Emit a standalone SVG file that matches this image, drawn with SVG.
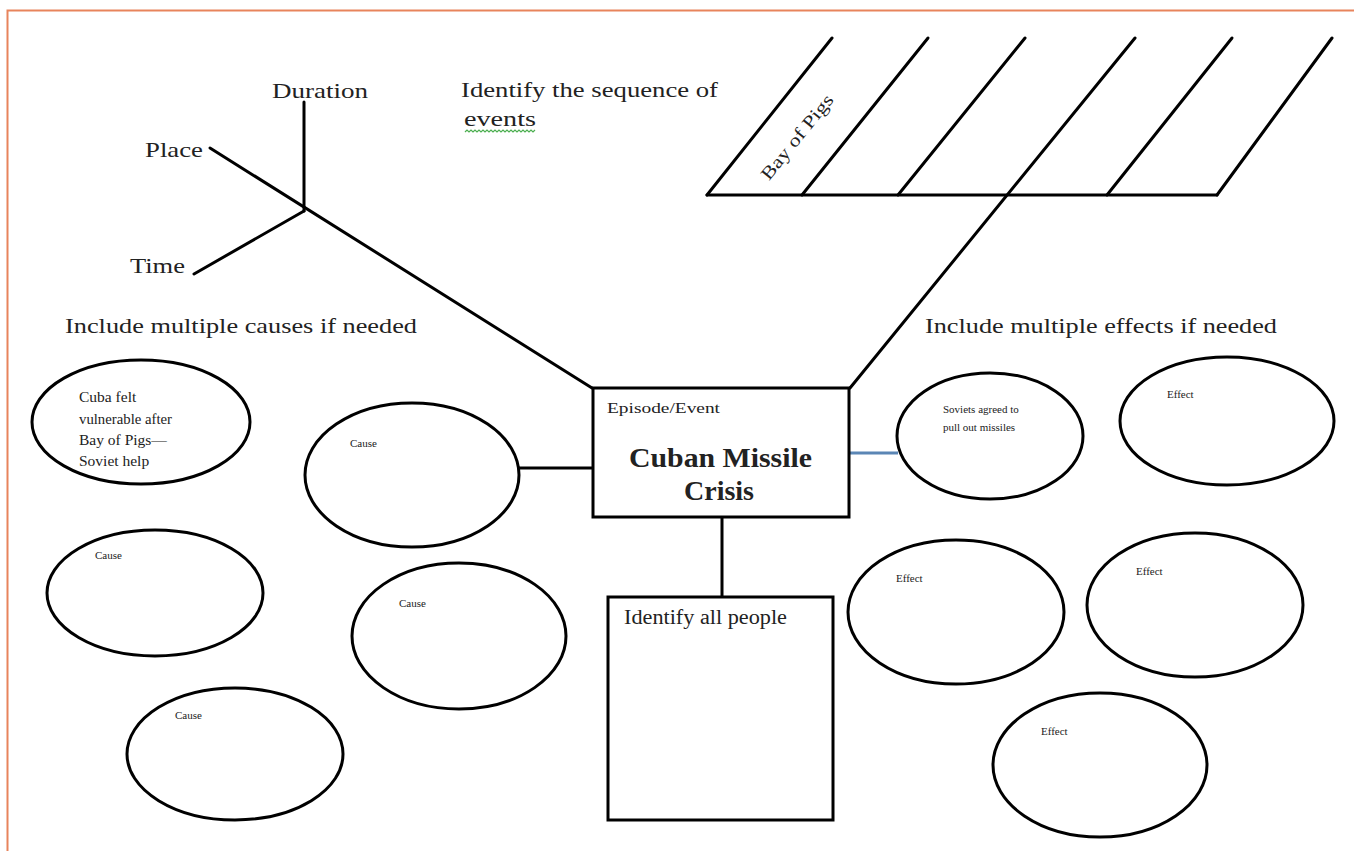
<svg xmlns="http://www.w3.org/2000/svg" width="1354" height="851" viewBox="0 0 1354 851">
<style>
  .ln { stroke:#000; stroke-width:3; fill:none; stroke-linecap:round; }
  .shape { stroke:#000; stroke-width:3; fill:#fff; }
  .t { font-family:"Liberation Serif","DejaVu Serif",serif; fill:#222; }
  .lg { font-size:21px; }
  .sm { font-size:11px; }
  .md { font-size:15.5px; }
</style>
<rect x="0" y="0" width="1354" height="851" fill="#fff"/>
<!-- orange frame -->
<path d="M7.5 851 V10.5 H1354" fill="none" stroke="#E8845C" stroke-width="2"/>

<g id="connectors">
  <!-- fishbone left -->
  <line class="ln" x1="304" y1="102" x2="304" y2="211"/>
  <line class="ln" x1="210" y1="148" x2="592" y2="388"/>
  <line class="ln" x1="194" y1="274" x2="304" y2="211"/>
  <!-- sequence parallelogram -->
  <line class="ln" x1="707" y1="195" x2="1217" y2="195"/>
  <line class="ln" x1="707" y1="195" x2="832" y2="38"/>
  <line class="ln" x1="802" y1="195" x2="928" y2="38"/>
  <line class="ln" x1="898" y1="195" x2="1025" y2="38"/>
  <line class="ln" x1="1107" y1="195" x2="1232" y2="38"/>
  <line class="ln" x1="1217" y1="195" x2="1332" y2="38"/>
  <line class="ln" x1="850" y1="388" x2="1135" y2="38"/>
  <!-- center links -->
  <line class="ln" x1="515" y1="468" x2="593" y2="468"/>
  <line x1="849" y1="453" x2="898" y2="453" stroke="#5B86B5" stroke-width="3"/>
  <line class="ln" x1="722" y1="517" x2="722" y2="597"/>
</g>

<g id="labels">
  <text class="t lg" x="272" y="98" textLength="96" lengthAdjust="spacingAndGlyphs">Duration</text>
  <text class="t lg" x="145" y="157" textLength="58" lengthAdjust="spacingAndGlyphs">Place</text>
  <text class="t lg" x="130" y="273" textLength="55" lengthAdjust="spacingAndGlyphs">Time</text>
  <text class="t lg" x="461" y="97" textLength="257" lengthAdjust="spacingAndGlyphs">Identify the sequence of</text>
  <text class="t lg" x="464" y="126" textLength="72" lengthAdjust="spacingAndGlyphs">events</text>
  <path d="M465 132 l2 -2 l2 2 l2 -2 l2 2 l2 -2 l2 2 l2 -2 l2 2 l2 -2 l2 2 l2 -2 l2 2 l2 -2 l2 2 l2 -2 l2 2 l2 -2 l2 2 l2 -2 l2 2 l2 -2 l2 2 l2 -2 l2 2 l2 -2 l2 2 l2 -2 l2 2 l2 -2 l2 2 l2 -2 l2 2 l2 -2 l2 2 l2 -2" fill="none" stroke="#4CAF50" stroke-width="1.2"/>
  <text class="t lg" x="65" y="333" textLength="352" lengthAdjust="spacingAndGlyphs">Include multiple causes if needed</text>
  <text class="t lg" x="925" y="333" textLength="352" lengthAdjust="spacingAndGlyphs">Include multiple effects if needed</text>
  <text class="t" font-size="18" transform="translate(797 137) rotate(-51)" x="-52" y="6" textLength="104" lengthAdjust="spacingAndGlyphs">Bay of Pigs</text>
</g>

<g id="event">
  <rect class="shape" x="593" y="388" width="256" height="129"/>
  <text class="t" x="607" y="413" font-size="15" textLength="113" lengthAdjust="spacingAndGlyphs">Episode/Event</text>
  <text class="t" x="629" y="467" font-size="28" font-weight="bold" fill="#111" textLength="183" lengthAdjust="spacingAndGlyphs">Cuban Missile</text>
  <text class="t" x="684" y="500" font-size="28" font-weight="bold" fill="#111" textLength="70" lengthAdjust="spacingAndGlyphs">Crisis</text>
</g>

<g id="people">
  <rect class="shape" x="608" y="597" width="225" height="223"/>
  <text class="t" x="624" y="624" font-size="20" textLength="163" lengthAdjust="spacingAndGlyphs">Identify all people</text>
</g>

<g id="cause-cuba">
  <ellipse class="shape" cx="141" cy="422" rx="109" ry="62"/>
  <text class="t md" x="79" y="402">Cuba felt</text>
  <text class="t md" x="79" y="424" textLength="93" lengthAdjust="spacingAndGlyphs">vulnerable after</text>
  <text class="t md" x="79" y="445">Bay of Pigs—</text>
  <text class="t md" x="79" y="466">Soviet help</text>
</g>
<g id="cause-1">
  <ellipse class="shape" cx="412" cy="475" rx="107" ry="72"/>
  <text class="t sm" x="350" y="447">Cause</text>
</g>
<g id="cause-2">
  <ellipse class="shape" cx="459" cy="636" rx="107" ry="73"/>
  <text class="t sm" x="399" y="607">Cause</text>
</g>
<g id="cause-3">
  <ellipse class="shape" cx="155" cy="593" rx="108" ry="63"/>
  <text class="t sm" x="95" y="559">Cause</text>
</g>
<g id="cause-4">
  <ellipse class="shape" cx="235" cy="754" rx="108" ry="66"/>
  <text class="t sm" x="175" y="719">Cause</text>
</g>

<g id="effect-soviets">
  <ellipse class="shape" cx="990" cy="436" rx="93" ry="63"/>
  <text class="t sm" x="943" y="413">Soviets agreed to</text>
  <text class="t sm" x="943" y="431">pull out missiles</text>
</g>
<g id="effect-1">
  <ellipse class="shape" cx="1227" cy="421" rx="107" ry="64"/>
  <text class="t sm" x="1167" y="398">Effect</text>
</g>
<g id="effect-2">
  <ellipse class="shape" cx="956" cy="612" rx="108" ry="72"/>
  <text class="t sm" x="896" y="582">Effect</text>
</g>
<g id="effect-3">
  <ellipse class="shape" cx="1195" cy="605" rx="108" ry="72"/>
  <text class="t sm" x="1136" y="575">Effect</text>
</g>
<g id="effect-4">
  <ellipse class="shape" cx="1100" cy="765" rx="107" ry="72"/>
  <text class="t sm" x="1041" y="735">Effect</text>
</g>
</svg>
